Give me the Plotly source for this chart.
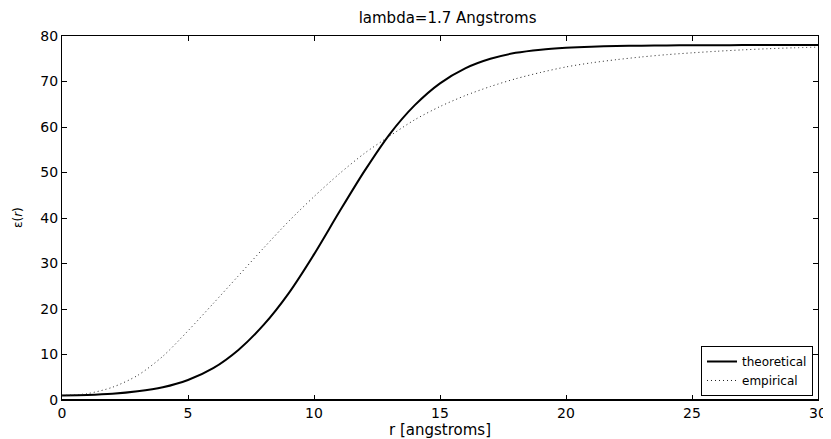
import plotly.graph_objects as go

r_values = list(range(0, 31))

theoretical = [1.0, 1.1, 1.35, 1.9, 2.8, 4.4, 7.0, 11.0, 16.5, 23.5,
               32.0, 41.3, 50.3, 58.4, 64.8, 69.6, 72.9, 75.0, 76.3, 77.0,
               77.4, 77.65, 77.8, 77.88, 77.93, 77.96, 77.98, 78.0, 78.0, 78.0, 78.0]

empirical = [1.0, 1.4, 2.8, 5.4, 9.6, 15.2, 21.2, 27.3, 33.4, 39.3,
             44.7, 49.7, 54.2, 58.0, 61.6, 64.5, 66.9, 68.9, 70.6, 72.0,
             73.2, 74.1, 74.8, 75.4, 75.9, 76.3, 76.65, 76.95, 77.2, 77.4, 77.55]

x_ticks = [0, 5, 10, 15, 20, 25, 30]
y_ticks = [0, 10, 20, 30, 40, 50, 60, 70, 80]

title_text = "lambda=1.7 Angstroms"
x_label = "r [angstroms]"
y_label = "ε(<i>r</i>)"

FONT = "DejaVu Sans, Liberation Sans, Arial, sans-serif"

# page body has an 8px default margin; size the figure to fit the window
W, H = 831 - 8, 439 - 8

fig = go.Figure()
fig.add_trace(go.Scatter(x=r_values, y=theoretical, mode="lines", name="theoretical",
                         line=dict(color="black", width=2, shape="spline", smoothing=0.8)))
fig.add_trace(go.Scatter(x=r_values, y=empirical, mode="lines", name="empirical",
                         line=dict(color="#222222", width=1, dash="1px,3px",
                                   shape="spline", smoothing=0.8)))

axis_common = dict(showgrid=False, zeroline=False, showline=True, linecolor="black",
                   linewidth=1, mirror="ticks", ticks="inside", ticklen=5,
                   tickcolor="black", automargin=False,
                   tickfont=dict(family=FONT, size=14, color="black"))

fig.update_layout(
    width=W, height=H,
    margin=dict(l=54, r=13, t=28, b=39),
    paper_bgcolor="white", plot_bgcolor="white",
    title=dict(text=title_text, x=0.51, xref="paper", y=1 - 10 / H, yanchor="middle",
               font=dict(family=FONT, size=15, color="black")),
    xaxis=dict(range=[0, 30], tickvals=x_ticks, **axis_common,
               title=dict(text=x_label, font=dict(family=FONT, size=15, color="black"), standoff=1)),
    yaxis=dict(range=[0, 80], tickvals=y_ticks, **axis_common),
    legend=dict(x=0.9934, y=0.011, xanchor="right", yanchor="bottom",
                bgcolor="white", bordercolor="black", borderwidth=1,
                font=dict(family=FONT, size=12, color="black"),
                tracegroupgap=0, itemwidth=30),
    showlegend=True,
)

fig.add_annotation(text=y_label, xref="paper", yref="paper", x=-(62 - 18) / 756, y=0.5,
                   textangle=-90, showarrow=False, xanchor="center", yanchor="middle",
                   font=dict(family=FONT, size=12, color="black"))

fig.add_shape(type="line", xref="paper", yref="paper", x0=0, x1=1, y0=0, y1=0,
              line=dict(color="black", width=2))

fig.write_html("out.html")
